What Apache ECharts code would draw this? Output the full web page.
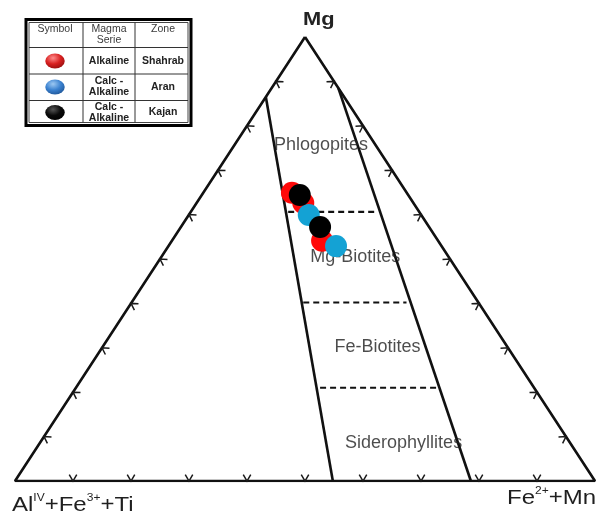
<!DOCTYPE html>
<html>
<head>
<meta charset="utf-8">
<style>
  html, body { margin: 0; padding: 0; background: #fff; }
  #chart { width: 601px; height: 515px; }
</style>
<script src="https://cdn.jsdelivr.net/npm/echarts/dist/echarts.min.js"></script>
</head>
<body>
<div id="chart"></div>
<script>
// Biotite compositions, percent: [Mg, AlIV+Fe3++Ti, Fe2++Mn]
const shahrab = [[64.9, 19.8, 15.3], [62.6, 19.0, 18.4], [54.1, 20.0, 25.9]];
const aran    = [[59.9, 19.4, 20.7], [52.9, 18.2, 28.9]];
const kajan   = [[64.4, 18.7, 16.9], [57.2, 18.8, 24.0]];

// Apexes of the diagram: Mg, AlIV+Fe3++Ti, Fe2++Mn
const apexes = [[100, 0, 0], [0, 100, 0], [0, 0, 100]];

// Field boundaries
const leftBoundary  = [[86.5, 13.5, 0], [0, 45.2, 54.8]];
const rightBoundary = [[88.5, 0, 11.5], [0, 21.4, 78.6]];
const dividers = [
  [[60.6, 22.6, 16.8], [60.6, 7.1, 32.3]],
  [[40.2, 30.2, 29.6], [40.2, 12.4, 47.4]],
  [[21.0, 36.9, 42.1], [21.0, 16.2, 62.8]]
];

// Field names and where they sit
const fieldNames   = ['Phlogopites', 'Mg-Biotites', 'Fe-Biotites', 'Siderophyllites'];
const fieldAnchors = [[75.7, 9.4, 14.9], [50.5, 16.1, 33.4], [30.2, 22.4, 47.4], [8.6, 28.7, 62.7]];

// Tick positions along each side, percent
const tickSteps = [10, 20, 30, 40, 50, 60, 70, 80, 90];

// Legend rows
const legendSeries = ['Alkaline', 'Calc -\nAlkaline', 'Calc -\nAlkaline'];
const legendZones  = ['Shahrab', 'Aran', 'Kajan'];

// ternary [Mg, Al, Fe] -> plane [x, y]
function toXY(t) { return [t[2] + t[0] / 2, t[0]]; }

const FONT = '"Liberation Sans", Arial, sans-serif';

// tick data: [x, y, side] with side 0 = left (Fe = 0), 1 = bottom (Mg = 0), 2 = right (Al = 0)
const tickData = [];
tickSteps.forEach(v => {
  tickData.push(toXY([v, 100 - v, 0]).concat(0));
  tickData.push(toXY([0, 100 - v, v]).concat(1));
  tickData.push(toXY([v, 0, 100 - v]).concat(2));
});

function lineSeries(points, dashed) {
  return {
    type: 'line',
    data: points.map(toXY),
    symbol: 'none',
    silent: true,
    z: 2,
    lineStyle: dashed
      ? { color: '#111', width: 2.2, type: [6, 4] }
      : { color: '#111', width: 2.6 }
  };
}

function pointSeries(name, rows, color) {
  return {
    name: name,
    type: 'scatter',
    data: rows.map(toXY),
    symbol: 'circle',
    symbolSize: 22,
    z: 5,
    itemStyle: { color: color, opacity: 1 }
  };
}

const series = [];
series.push(lineSeries(apexes.concat([apexes[0]]), false));
series.push(lineSeries(leftBoundary, false));
series.push(lineSeries(rightBoundary, false));
dividers.forEach(d => series.push(lineSeries(d, true)));

series.push({
  type: 'custom',
  data: tickData,
  encode: { x: 0, y: 1 },
  silent: true,
  z: 3,
  renderItem: function (params, api) {
    const p = api.coord([api.value(0), api.value(1)]);
    const side = api.value(2);
    const A = api.coord(toXY(apexes[1]));
    const B = api.coord(toXY(apexes[2]));
    const C = api.coord(toXY(apexes[0]));
    const ends = side === 0 ? [A, C, B] : side === 1 ? [A, B, C] : [B, C, A];
    let dx = ends[1][0] - ends[0][0], dy = ends[1][1] - ends[0][1];
    const len = Math.hypot(dx, dy); dx /= len; dy /= len;
    let nx = -dy, ny = dx;
    // point the tick toward the inside of the triangle
    if ((ends[2][0] - p[0]) * nx + (ends[2][1] - p[1]) * ny < 0) { nx = -nx; ny = -ny; }
    const ang = 30 * Math.PI / 180, L = 7.5;
    const rot = a => [p[0] + L * (nx * Math.cos(a) - ny * Math.sin(a)),
                      p[1] + L * (nx * Math.sin(a) + ny * Math.cos(a))];
    return {
      type: 'polyline',
      shape: { points: [rot(ang), p, rot(-ang)] },
      style: { stroke: '#1a1a1a', lineWidth: 1.5, fill: null }
    };
  }
});

series.push({
  type: 'scatter',
  data: fieldNames.map((n, i) => ({ name: n, value: toXY(fieldAnchors[i]) })),
  symbolSize: 1,
  silent: true,
  z: 4,
  itemStyle: { color: 'rgba(0,0,0,0)' },
  label: {
    show: true,
    position: 'inside',
    formatter: '{b}',
    fontFamily: FONT,
    fontSize: 18,
    color: '#1f1f1f'
  }
});

series.push(pointSeries('Shahrab', shahrab, '#ff0808'));
series.push(pointSeries('Aran', aran, '#14a2d4'));
series.push(pointSeries('Kajan', kajan, '#000000'));

// legend table
const legendColors = [
  ['#ff8a8a', '#d82020', '#8c0c0c'],
  ['#9cc8f2', '#3b82d0', '#1b4f8f'],
  ['#555555', '#0a0a0a', '#000000']
];
const rowMid = [61, 87, 112.5];
const graphics = [
  { type: 'rect', shape: { x: 26, y: 19.5, width: 165, height: 106 },
    style: { fill: '#fff', stroke: '#000', lineWidth: 3 } },
  { type: 'rect', shape: { x: 29, y: 22.5, width: 159, height: 100 },
    style: { fill: null, stroke: '#444', lineWidth: 1 } },
  { type: 'line', shape: { x1: 83, y1: 22.5, x2: 83, y2: 122.5 }, style: { stroke: '#333', lineWidth: 1 } },
  { type: 'line', shape: { x1: 135, y1: 22.5, x2: 135, y2: 122.5 }, style: { stroke: '#333', lineWidth: 1 } },
  { type: 'line', shape: { x1: 29, y1: 47.5, x2: 188, y2: 47.5 }, style: { stroke: '#333', lineWidth: 1 } },
  { type: 'line', shape: { x1: 29, y1: 74, x2: 188, y2: 74 }, style: { stroke: '#333', lineWidth: 1 } },
  { type: 'line', shape: { x1: 29, y1: 100.5, x2: 188, y2: 100.5 }, style: { stroke: '#333', lineWidth: 1 } }
];
const headStyle = { fontFamily: FONT, fontSize: 10.5, fill: '#3a3a3a', align: 'center', verticalAlign: 'middle', lineHeight: 11 };
graphics.push({ type: 'text', x: 55, y: 29, style: Object.assign({ text: 'Symbol' }, headStyle) });
graphics.push({ type: 'text', x: 109, y: 34.5, style: Object.assign({ text: 'Magma\nSerie' }, headStyle) });
graphics.push({ type: 'text', x: 163, y: 29, style: Object.assign({ text: 'Zone' }, headStyle) });
legendZones.forEach((z, i) => {
  const c = legendColors[i];
  graphics.push({
    type: 'circle', x: 55, y: rowMid[i], scaleX: 1.3,
    shape: { cx: 0, cy: 0, r: 7.5 },
    style: {
      fill: { type: 'radial', x: 0.4, y: 0.3, r: 0.8,
        colorStops: [{ offset: 0, color: c[0] }, { offset: 0.5, color: c[1] }, { offset: 1, color: c[2] }] }
    }
  });
  const bodyStyle = { fontFamily: FONT, fontSize: 10.5, fontWeight: 'bold', fill: '#222', align: 'center', verticalAlign: 'middle', lineHeight: 11 };
  graphics.push({ type: 'text', x: 109, y: rowMid[i], style: Object.assign({ text: legendSeries[i] }, bodyStyle) });
  graphics.push({ type: 'text', x: 163, y: rowMid[i], style: Object.assign({ text: z }, bodyStyle) });
});

// apex labels
const supRich = {
  m: { fontFamily: FONT, fontSize: 20, lineHeight: 22, fill: '#1f1f1f', verticalAlign: 'bottom' },
  s: { fontFamily: FONT, fontSize: 10, lineHeight: 12, fill: '#1f1f1f', verticalAlign: 'top' }
};
graphics.push({
  type: 'text', x: 303, y: 20, scaleX: 1.15,
  style: { text: 'Mg', fontFamily: FONT, fontSize: 19, fontWeight: 'bold', fill: '#222', align: 'left', verticalAlign: 'middle' }
});
graphics.push({
  type: 'text', x: 12, y: 504, scaleX: 1.2,
  style: { text: '{m|Al}{s|IV}{m|+Fe}{s|3+}{m|+Ti}', rich: supRich, align: 'left', verticalAlign: 'middle' }
});
graphics.push({
  type: 'text', x: 507, y: 497, scaleX: 1.2,
  style: { text: '{m|Fe}{s|2+}{m|+Mn}', rich: supRich, align: 'left', verticalAlign: 'middle' }
});

const chart = echarts.init(document.getElementById('chart'), null, { renderer: 'canvas' });
chart.setOption({
  animation: false,
  backgroundColor: '#fff',
  grid: { left: 15, right: 6, top: 37, bottom: 34 },
  xAxis: { type: 'value', min: 0, max: 100, show: false },
  yAxis: { type: 'value', min: 0, max: 100, show: false },
  series: series,
  graphic: graphics
});
</script>
</body>
</html>
